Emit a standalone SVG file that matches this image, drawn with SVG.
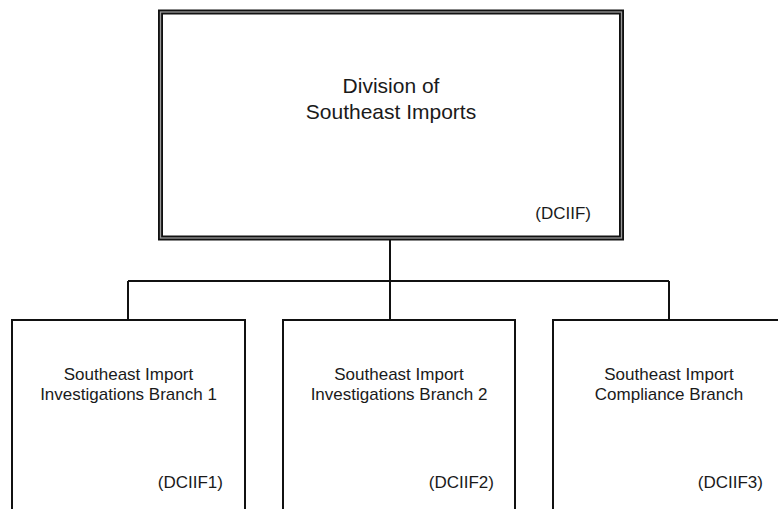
<svg xmlns="http://www.w3.org/2000/svg" width="778" height="509" viewBox="0 0 778 509">
<style>
.t{font-family:"Liberation Sans",Arial,sans-serif;fill:#1a1a1a}
.title{font-size:21px;text-anchor:middle}
.lbl{font-size:17px;text-anchor:middle}
.code{font-size:17px;text-anchor:end}
.box{fill:#fff;stroke:#111;stroke-width:2}
.conn{fill:none;stroke:#111;stroke-width:2}
</style>
<rect width="778" height="509" fill="#fff"/>
<g id="connectors">
<path class="conn" d="M390,240 V281 M128,281 H669 M128,281 V320 M390,281 V320 M669,281 V320"/>
</g>
<g id="node-dciif">
<rect x="160.5" y="12" width="461" height="226" fill="#fff" stroke="#111" stroke-width="5"/>
<rect x="160.5" y="12" width="461" height="226" fill="none" stroke="#9a9a9a" stroke-width="1.3"/>
<text class="t title" x="391" y="93">Division of</text>
<text class="t title" x="391" y="119">Southeast Imports</text>
<text class="t code" x="591" y="219">(DCIIF)</text>
</g>
<g id="node-dciif1">
<rect class="box" x="12" y="320" width="233" height="200"/>
<text class="t lbl" x="128.5" y="380">Southeast Import</text>
<text class="t lbl" x="128.5" y="400">Investigations Branch 1</text>
<text class="t code" x="223" y="488">(DCIIF1)</text>
</g>
<g id="node-dciif2">
<rect class="box" x="283" y="320" width="232" height="200"/>
<text class="t lbl" x="399" y="380">Southeast Import</text>
<text class="t lbl" x="399" y="400">Investigations Branch 2</text>
<text class="t code" x="494" y="488">(DCIIF2)</text>
</g>
<g id="node-dciif3">
<rect class="box" x="553" y="320" width="232" height="200"/>
<text class="t lbl" x="669" y="380">Southeast Import</text>
<text class="t lbl" x="669" y="400">Compliance Branch</text>
<text class="t code" x="763" y="488">(DCIIF3)</text>
</g>
</svg>
